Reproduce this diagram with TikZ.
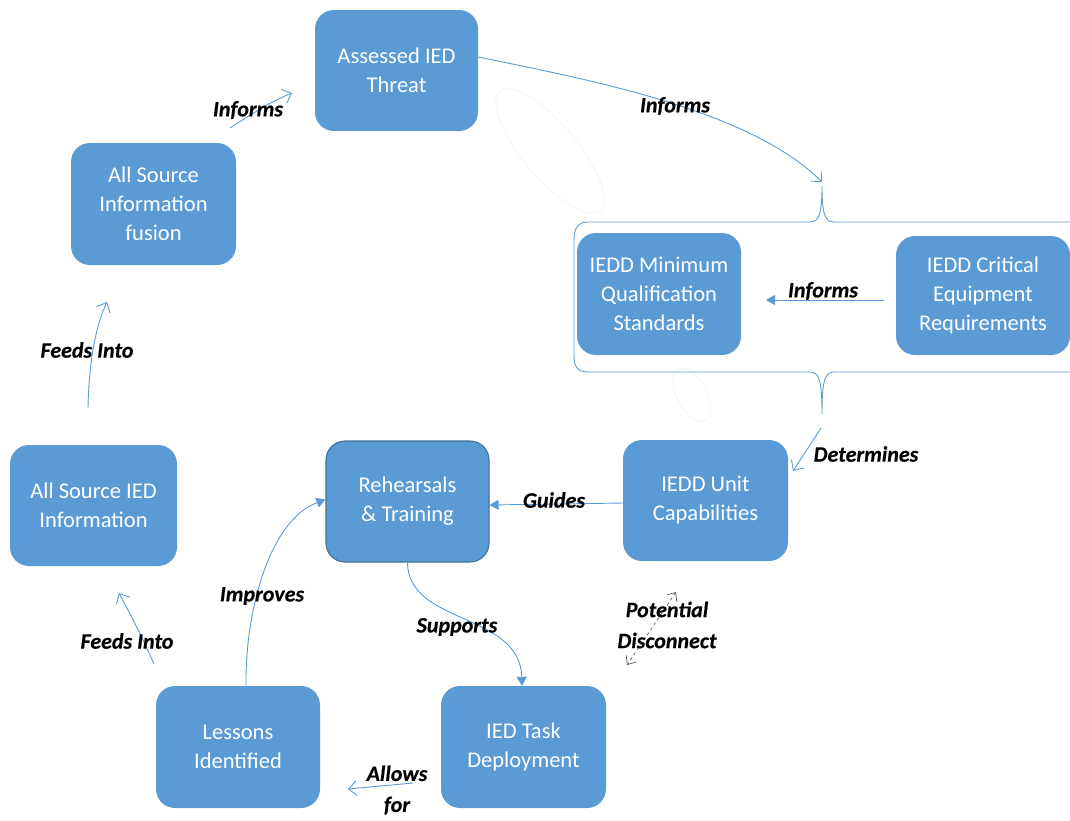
\documentclass[tikz,border=0pt]{standalone}
\usepackage{fontspec}
\setmainfont{Carlito}
\newfontfamily\lblfont{Carlito}[BoldItalicFeatures={FakeBold=0.35}]
\usetikzlibrary{arrows.meta}
\definecolor{boxblue}{HTML}{5B9BD5}
\definecolor{boxedge}{HTML}{41719C}
\definecolor{linkblue}{HTML}{5B9BD5}
\definecolor{ghost}{HTML}{EFF2F5}
\begin{document}
\begin{tikzpicture}[x=1pt,y=-1pt,
  box/.style={rectangle, rounded corners=19pt, fill=boxblue, text=white, align=center,
    inner sep=0pt, font=\fontsize{22.5}{29}\selectfont},
  lbl/.style={font=\lblfont\fontsize{22}{31}\selectfont\bfseries\itshape, text=black, inner sep=1pt, align=center},
  link/.style={draw=linkblue, line width=0.9pt},
  openhead/.style={-{Straight Barb[length=8pt,width=15pt,line width=0.9pt]}},
  fillhead/.style={-{Triangle[length=9pt,width=10pt]}},
  bracket/.style={draw=linkblue, line width=0.9pt},
  faint/.style={draw=ghost, line width=0.7pt}]
\useasboundingbox (0,0) rectangle (1070,820);

% faint artefacts
\draw[faint, rotate around={-50:(550,151)}] (550,151) ellipse [x radius=78, y radius=27];
\draw[faint, rotate around={-62:(692,395)}] (692,395) ellipse [x radius=29, y radius=15];

% bracket around the two IEDD boxes
\draw[bracket] (1072,222) -- (834,222) .. controls (825,222) and (822,214) .. (822,186)
  .. controls (822,214) and (819,222) .. (810,222) -- (588,222)
  .. controls (578,222) and (574,228) .. (574,240) -- (574,356)
  .. controls (574,367) and (578,372) .. (588,372) -- (810,372)
  .. controls (819,372) and (822,380) .. (822,414)
  .. controls (822,380) and (825,372) .. (834,372) -- (1072,372);

% boxes
\node[box, minimum width=163pt, minimum height=121pt] (threat) at (396.5,70.5) {Assessed IED\\Threat};
\node[box, minimum width=165pt, minimum height=122pt] (fusion) at (153.5,204) {All Source\\Information\\fusion};
\node[box, minimum width=164pt, minimum height=122pt] (minq) at (659,294) {IEDD Minimum\\Qualification\\Standards};
\node[box, minimum width=174pt, minimum height=119pt] (crit) at (983,295.5) {IEDD Critical\\Equipment\\Requirements};
\node[box, minimum width=167pt, minimum height=121pt] (info) at (93.5,505.5) {All Source IED\\Information};
\node[box, draw=boxedge, line width=1.1pt, minimum width=163pt, minimum height=121pt] (reh) at (407.5,501.5) {Rehearsals\\\& Training};
\node[box, minimum width=165pt, minimum height=121pt] (unit) at (705.5,500.5) {IEDD Unit\\Capabilities};
\node[box, minimum width=165pt, minimum height=122pt] (deploy) at (523.5,747) {IED Task\\Deployment};
\node[box, minimum width=164pt, minimum height=122pt] (lessons) at (238,747) {Lessons\\Identified};

% free ends
\coordinate (topTip) at (822,182);
\coordinate (botTip) at (821,428);
\coordinate (infoOut) at (88,408);
\coordinate (fusionIn) at (107,302);
\coordinate (fusionOut) at (230,128);
\coordinate (threatIn) at (292,93);
\coordinate (critOut) at (884,300);
\coordinate (minqIn) at (766,300);
\coordinate (unitIn) at (793,471);
\coordinate (pdA) at (676,592);
\coordinate (pdB) at (627,665);
\coordinate (deployOut) at (413,783);
\coordinate (lessonsIn) at (348,789);
\coordinate (lessonsOut) at (154,664);
\coordinate (infoIn) at (119,593);

% connectors
\draw[link, openhead] ([yshift=13.5pt]threat.east) .. controls (590,80) and (750,110) .. (topTip);
\draw[link, openhead] (fusionOut) .. controls (255,112) and (270,102) .. (threatIn);
\draw[link, openhead] (infoOut) .. controls (89,360) and (96,325) .. (fusionIn);
\draw[link, fillhead] (critOut) -- (minqIn);
\draw[link, openhead] (botTip) -- (unitIn);
\draw[link, fillhead] ([yshift=-2.5pt]unit.west) -- ([yshift=-3.5pt]reh.east);
\draw[link, fillhead] (reh.south) .. controls (408,625) and (520,612) .. (deploy.north -| 522,0);
\draw[link, fillhead] (lessons.north -| 246,0) .. controls (245,610) and (270,520) .. ([yshift=2pt]reh.west);
\draw[link, openhead] (deployOut) -- (lessonsIn);
\draw[link, openhead] (lessonsOut) .. controls (140,632) and (128,610) .. (infoIn);
\draw[draw=black!65, line width=0.7pt, dashed,
  {Straight Barb[length=7pt,width=12pt,line width=0.7pt]}-{Straight Barb[length=7pt,width=12pt,line width=0.7pt]}] (pdA) -- (pdB);

% labels
\node[lbl] (l1) at (675,106) {Informs};
\node[lbl] (l2) at (248,110) {Informs};
\node[lbl] (l3) at (87,350) {Feeds Into};
\node[lbl] (l4) at (823,291) {Informs};
\node[lbl] (l5) at (866,454) {Determines};
\node[lbl] (l6) at (554,500) {Guides};
\node[lbl] (l7) at (262,596) {Improves};
\node[lbl] (l8) at (457,627) {Supports};
\node[lbl] (l9) at (667,625) {Potential\\Disconnect};
\node[lbl] (l10) at (127,641) {Feeds Into};
\node[lbl] (l11) at (397,790) {Allows\\for};
\end{tikzpicture}
\end{document}
